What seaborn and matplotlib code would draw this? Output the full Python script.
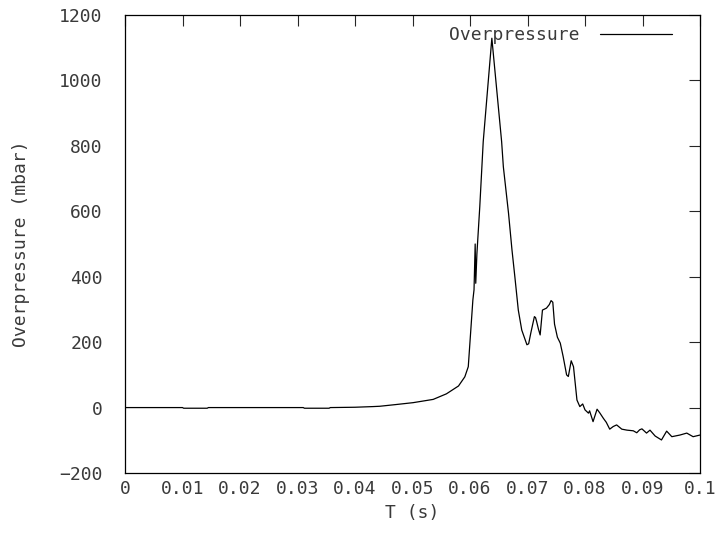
import matplotlib
matplotlib.use("Agg")
import matplotlib.pyplot as plt
import numpy as np
import seaborn as sns

# time (s) and overpressure (mbar)
t = [0.0, 0.010, 0.0102, 0.0143, 0.0145, 0.031, 0.0312, 0.0355, 0.0357,
     0.040, 0.0431, 0.0443, 0.047, 0.0501, 0.0536, 0.0559, 0.0580, 0.0591,
     0.0597, 0.0599, 0.0601, 0.0605, 0.0607, 0.0609, 0.0610, 0.0612, 0.0617,
     0.0623, 0.0638, 0.0655, 0.0658, 0.0667, 0.0673, 0.0678, 0.0684, 0.0690,
     0.0696, 0.0699, 0.0702, 0.0706, 0.0712, 0.0714, 0.0716, 0.0719, 0.0722,
     0.0726, 0.0733, 0.0738, 0.0741, 0.0744, 0.0747, 0.0752, 0.0757, 0.0762,
     0.0768, 0.0771, 0.0776, 0.0780, 0.0786, 0.0791, 0.0796, 0.0800, 0.0806,
     0.0808, 0.0814, 0.0821, 0.0826, 0.0832, 0.0837, 0.0843, 0.0849, 0.0855,
     0.0864, 0.0873, 0.0884, 0.0890, 0.0895, 0.0899, 0.0907, 0.0913, 0.0922,
     0.0933, 0.0942, 0.0951, 0.0965, 0.0977, 0.0988, 0.1]
p = [0, 0, -2, -2, 0, 0, -2, -2, 0,
     1, 3, 4, 9, 15, 25, 42, 66, 94,
     125, 176, 227, 329, 360, 500, 380, 470, 614,
     813, 1129, 813, 736, 594, 482, 400, 298, 237,
     207, 192, 195, 230, 278, 275, 262, 240, 222,
     298, 304, 315, 327, 322, 255, 215, 197, 156,
     100, 95, 143, 125, 23, 3, 11, -7, -17,
     -10, -43, -5, -17, -33, -45, -66, -58, -53,
     -66, -69, -71, -77, -68, -65, -78, -69, -87,
     -99, -72, -89, -84, -78, -89, -84]

xticks = [0, 0.01, 0.02, 0.03, 0.04, 0.05, 0.06, 0.07, 0.08, 0.09, 0.1]
xlabels = ['0', '0.01', '0.02', '0.03', '0.04', '0.05', '0.06', '0.07', '0.08', '0.09', '0.1']
yticks = [-200, 0, 200, 400, 600, 800, 1000, 1200]

sns.set_style("white")
plt.rcParams['font.family'] = ['DejaVu Sans Mono']
fs = 13
txtcol = '#3a3a3a'

fig = plt.figure(figsize=(7.22, 5.45), dpi=100)
ax = fig.add_axes([125 / 722, 72 / 545, 575 / 722, 458 / 545])

sns.lineplot(x=t, y=p, ax=ax, color='black', linewidth=0.9, sort=False,
             estimator=None, label='Overpressure')

ax.set_xlim(0, 0.1)
ax.set_ylim(-200, 1200)
ax.set_xticks(xticks)
ax.set_xticklabels(xlabels)
ax.set_yticks(yticks)
ax.tick_params(direction='in', length=8, width=0.8, top=True, right=True,
               labelsize=fs, labelcolor=txtcol)
ax.tick_params(axis='x', pad=5)
ax.tick_params(axis='y', pad=16)
for s in ax.spines.values():
    s.set_color('black')
    s.set_linewidth(0.9)

ax.set_xlabel('T (s)', fontsize=fs, color=txtcol, labelpad=4)
ax.set_ylabel('Overpressure (mbar)', fontsize=fs, color=txtcol, labelpad=21)

leg = ax.legend(loc='upper right', bbox_to_anchor=(0.951, 0.976), frameon=False,
                markerfirst=False, fontsize=fs, handlelength=4.0,
                handletextpad=1.1, borderpad=0, borderaxespad=0)
for txt in leg.get_texts():
    txt.set_color(txtcol)

fig.savefig('out.png', dpi=100)
